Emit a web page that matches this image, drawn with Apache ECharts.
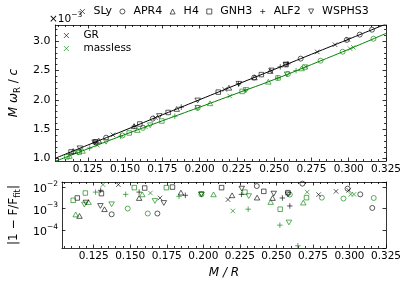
<!DOCTYPE html>
<html><head><meta charset="utf-8">
<script src="https://cdn.jsdelivr.net/npm/echarts@6/dist/echarts.min.js"></script>
<style>html,body{margin:0;padding:0;background:#fff}#c{width:407px;height:281px}</style>
</head><body><div id="c"></div>
<script>
// ---- data (top: M*omega_R/c in units of 1e-3 ; bottom: |1 - F/F_fit|) ----
const eosNames = ['SLy','APR4','H4','GNH3','ALF2','WSPHS3'];

const fitComp = [0.1033,0.125,0.15,0.175,0.2,0.225,0.25,0.275,0.3,0.325];
const fitGR   = [1.006,1.230,1.484,1.745,2.002,2.260,2.517,2.775,3.032,3.290];
const fitML   = [0.955,1.166,1.410,1.643,1.875,2.110,2.345,2.600,2.860,3.130];

const slyCompGR = [0.1419,0.1704,0.2169,0.2789,0.2908,0.2995];
const slyFreqGR = [1.404,1.697,2.176,2.815,2.938,3.027];
const slyResGR  = [0.0134,0.00318,0.00268,0.00457,0.0065,0.00725];
const slyCompML = [0.1314,0.1638,0.2202,0.2711,0.3009,0.3031];
const slyFreqML = [1.229,1.538,2.065,2.562,2.870,2.893];
const slyResML  = [0.0134,0.00543,0.00079,0.0060,0.0047,0.0047];

const apr4CompGR = [0.1373,0.1686,0.2366,0.2678,0.2987,0.3074,0.3156];
const apr4FreqGR = [1.356,1.679,2.379,2.701,3.019,3.109,3.193];
const apr4ResGR  = [0.00055,0.00060,0.0115,0.0149,0.0087,0.0047,0.00109];
const apr4CompML = [0.1483,0.1620,0.1987,0.2592,0.2811,0.2959,0.3166];
const apr4FreqML = [1.393,1.522,1.863,2.440,2.665,2.818,3.039];
const apr4ResML  = [0.00102,0.00060,0.0047,0.0046,0.0033,0.0030,0.00318];

const h4CompGR = [0.1153,0.1324,0.1561,0.1847,0.2197,0.2368,0.2474];
const h4FreqGR = [1.130,1.306,1.550,1.845,2.205,2.381,2.491];
const h4ResGR  = [0.00046,0.00095,0.00318,0.00566,0.00425,0.00332,0.00318];
const h4CompML = [0.1127,0.1215,0.1583,0.2070,0.2461,0.2684];
const h4FreqML = [1.046,1.132,1.487,1.941,2.308,2.535];
const h4ResML  = [0.00054,0.00207,0.0047,0.0047,0.00207,0.00194];

const gnh3CompGR = [0.1138,0.1303,0.1599,0.1789,0.2125,0.2414,0.2579];
const gnh3FreqGR = [1.114,1.284,1.589,1.785,2.131,2.429,2.599];
const gnh3ResGR  = [0.00318,0.0051,0.0093,0.0103,0.0097,0.0065,0.00566];
const gnh3CompML = [0.1110,0.1193,0.1528,0.1747,0.2285,0.2526,0.2706];
const gnh3FreqML = [1.030,1.111,1.436,1.640,2.143,2.372,2.557];
const gnh3ResML  = [0.00248,0.00543,0.0097,0.0097,0.0060,0.00095,0.0033];

const alf2CompGR = [0.1298,0.1561,0.1877,0.2261,0.2541,0.2592];
const alf2FreqGR = [1.279,1.550,1.876,2.271,2.560,2.612];
const alf2ResGR  = [0.00725,0.0060,0.00425,0.0047,0.00318,0.00135];
const alf2CompML = [0.1263,0.1469,0.1834,0.2307,0.2524,0.2647];
const alf2FreqML = [1.179,1.380,1.721,2.164,2.370,2.497];
const alf2ResML  = [0.0060,0.0047,0.00381,0.00095,0.000171,0.0000186];

const wsCompGR = [0.1197,0.1296,0.1730,0.1987,0.2263,0.2482,0.2579];
const wsFreqGR = [1.175,1.277,1.724,1.989,2.273,2.499,2.599];
const wsResGR  = [0.00194,0.00135,0.00186,0.0047,0.0087,0.0051,0.0047];
const wsCompML = [0.1186,0.1373,0.1669,0.1987,0.2311,0.2586];
const wsFreqML = [1.104,1.286,1.567,1.863,2.167,2.434];
const wsResML  = [0.00157,0.00162,0.00231,0.0047,0.0039,0.000228];

const xMajorTicks = [0.125,0.15,0.175,0.2,0.225,0.25,0.275,0.3,0.325];
const yMajorTicks = [1.0,1.5,2.0,2.5,3.0];

// ---- build ----
const eosData = {
  SLy:{cg:slyCompGR,fg:slyFreqGR,rg:slyResGR,cm:slyCompML,fm:slyFreqML,rm:slyResML},
  APR4:{cg:apr4CompGR,fg:apr4FreqGR,rg:apr4ResGR,cm:apr4CompML,fm:apr4FreqML,rm:apr4ResML},
  H4:{cg:h4CompGR,fg:h4FreqGR,rg:h4ResGR,cm:h4CompML,fm:h4FreqML,rm:h4ResML},
  GNH3:{cg:gnh3CompGR,fg:gnh3FreqGR,rg:gnh3ResGR,cm:gnh3CompML,fm:gnh3FreqML,rm:gnh3ResML},
  ALF2:{cg:alf2CompGR,fg:alf2FreqGR,rg:alf2ResGR,cm:alf2CompML,fm:alf2FreqML,rm:alf2ResML},
  WSPHS3:{cg:wsCompGR,fg:wsFreqGR,rg:wsResGR,cm:wsCompML,fm:wsFreqML,rm:wsResML}
};
const FONT = 'DejaVu Sans';
const GREEN = '#008000';
const symX = 'path://M0,0L10,10M10,0L0,10';
const symPlus = 'path://M5,0L5,10M0,5L10,5';
const symUp = 'path://M5,0L10,8.66L0,8.66Z';
const symDown = 'path://M0,0L10,0L5,8.66Z';
const symSq = 'path://M0,0L10,0L10,10L0,10Z';
const eosSymbol = {SLy:symX, APR4:'circle', H4:symUp, GNH3:symSq, ALF2:symPlus, WSPHS3:symDown};
const eosSize = {SLy:4.5, APR4:5, H4:5.5, GNH3:4.5, ALF2:5.5, WSPHS3:5.5};
const zip = (a,b) => a.map((v,i)=>[v,b[i]]);

const xMinorTicks = [];
for (let k = 21; k <= 65; k++) { if (k % 5 !== 0) xMinorTicks.push(k*0.005); }
const yMinorTicks = [];
for (let k = 10; k <= 32; k++) { if (k % 5 !== 0) yMinorTicks.push(k/10); }

const tickStyle = {color:'#000', width:0.8};
function xAx(grid, pos, ticks, len, major, labels, extra) {
  return Object.assign({
    type:'value', gridIndex:grid, position:pos, min:0.1033, max:0.325,
    axisLine:{show:major, onZero:false, lineStyle:{color:'#000', width:0.8}},
    axisTick:{show:true, inside:true, length:len, customValues:ticks, lineStyle:tickStyle},
    axisLabel:{show:labels, customValues:xMajorTicks, formatter:v=>v.toFixed(3),
      fontFamily:FONT, fontSize:10.5, color:'#000', margin:3},
    splitLine:{show:false}
  }, extra||{});
}
function yTop(pos, ticks, len, major, labels, extra) {
  return Object.assign({
    type:'value', gridIndex:0, position:pos, min:0.959, max:3.273,
    axisLine:{show:major, onZero:false, lineStyle:{color:'#000', width:0.8}},
    axisTick:{show:true, inside:true, length:len, customValues:ticks, lineStyle:tickStyle},
    axisLabel:{show:labels, customValues:yMajorTicks, formatter:v=>v.toFixed(1),
      fontFamily:FONT, fontSize:11, color:'#000', margin:5},
    splitLine:{show:false}
  }, extra||{});
}
function yBot(pos, labels, extra) {
  return Object.assign({
    type:'log', logBase:10, gridIndex:1, position:pos, min:1.46e-5, max:0.0178,
    axisLine:{show:true, onZero:false, lineStyle:{color:'#000', width:0.8}},
    axisTick:{show:true, inside:true, length:3.5, lineStyle:tickStyle},
    axisLabel:{show:labels, showMinLabel:false, showMaxLabel:false, margin:4,
      formatter:v=>{const e=Math.round(Math.log10(v)); return '{b|10}{s|\u2212'+Math.abs(e)+'}';},
      rich:{b:{fontFamily:FONT,fontSize:11,color:'#000',lineHeight:15,verticalAlign:'bottom'},
            s:{fontFamily:FONT,fontSize:7.5,color:'#000',lineHeight:15,verticalAlign:'top'}}},
    splitLine:{show:false}
  }, extra||{});
}

const series = [];
series.push({type:'line', name:'fitGR', xAxisIndex:0, yAxisIndex:0, data:zip(fitComp,fitGR),
  smooth:true, showSymbol:false, symbol:'none', lineStyle:{color:'#000', width:1}, z:2, silent:true});
series.push({type:'line', name:'fitML', xAxisIndex:0, yAxisIndex:0, data:zip(fitComp,fitML),
  smooth:true, showSymbol:false, symbol:'none', lineStyle:{color:GREEN, width:1}, z:2, silent:true});

eosNames.forEach(n => {
  const d = eosData[n];
  const mk = (name, xi, yi, data, col) => ({
    type:'scatter', name, xAxisIndex:xi, yAxisIndex:yi, data,
    symbol:eosSymbol[n], symbolSize:eosSize[n], symbolKeepAspect:true,
    itemStyle:{color:'rgba(0,0,0,0)', borderColor:col, borderWidth:0.8}, z:3, silent:true
  });
  series.push(mk(n, 0, 0, zip(d.cg,d.fg), '#000'));
  series.push(mk(n+' massless', 0, 0, zip(d.cm,d.fm), GREEN));
  series.push(mk(n+' GR res', 4, 4, zip(d.cg,d.rg), '#000'));
  series.push(mk(n+' massless res', 4, 4, zip(d.cm,d.rm), GREEN));
});
series.push({type:'scatter', name:'GR', xAxisIndex:0, yAxisIndex:0, data:[], symbol:symX, symbolSize:4.5,
  itemStyle:{color:'rgba(0,0,0,0)', borderColor:'#000', borderWidth:0.8}});
series.push({type:'scatter', name:'massless', xAxisIndex:0, yAxisIndex:0, data:[], symbol:symX, symbolSize:4.5,
  itemStyle:{color:'rgba(0,0,0,0)', borderColor:GREEN, borderWidth:0.8}});

const option = {
  animation:false,
  backgroundColor:'#fff',
  textStyle:{fontFamily:FONT},
  grid:[{left:49, top:25, width:337, height:136}, {left:49, top:182, width:337, height:66}],
  xAxis:[
    xAx(0,'bottom',xMajorTicks,3.5,true,true),
    xAx(0,'top',xMajorTicks,3.5,true,false),
    xAx(0,'bottom',xMinorTicks,2,false,false),
    xAx(0,'top',xMinorTicks,2,false,false),
    xAx(1,'bottom',xMajorTicks,3.5,true,true,{name:'M / R', nameLocation:'middle', nameGap:19,
      nameTextStyle:{fontFamily:FONT, fontSize:12, fontStyle:'italic', color:'#000'}}),
    xAx(1,'top',xMajorTicks,3.5,true,false),
    xAx(1,'bottom',xMinorTicks,2,false,false),
    xAx(1,'top',xMinorTicks,2,false,false)
  ],
  yAxis:[
    yTop('left',yMajorTicks,3.5,true,true,{name:'{i|M ω}{sub|R}{r| / }{i|c}', nameLocation:'middle', nameGap:31,
      nameTextStyle:{fontFamily:FONT, fontSize:12, color:'#000', rich:{
        i:{fontFamily:FONT,fontSize:12,fontStyle:'italic',color:'#000',lineHeight:16,verticalAlign:'middle'},
        r:{fontFamily:FONT,fontSize:12,color:'#000',lineHeight:16,verticalAlign:'middle'},
        sub:{fontFamily:FONT,fontSize:8.5,color:'#000',lineHeight:16,verticalAlign:'bottom'}}}}),
    yTop('right',yMajorTicks,3.5,true,false),
    yTop('left',yMinorTicks,2,false,false),
    yTop('right',yMinorTicks,2,false,false),
    yBot('left',true,{name:'{r||1 \u2212 F/F}{sub|fit}{r||}', nameLocation:'middle', nameGap:36,
      nameTextStyle:{fontFamily:FONT, fontSize:12, color:'#000', rich:{
        r:{fontFamily:FONT,fontSize:12,color:'#000',lineHeight:16,verticalAlign:'middle'},
        sub:{fontFamily:FONT,fontSize:8.5,color:'#000',lineHeight:16,verticalAlign:'bottom'}}}}),
    yBot('right',false)
  ],
  legend:[
    {data:eosNames, left:79.5, top:6, padding:0, itemWidth:5, itemHeight:5, itemGap:7.5, symbolKeepAspect:false,
      selectedMode:false, itemStyle:{borderWidth:0.8},
      textStyle:{fontFamily:FONT, fontSize:11, color:'#000', padding:[0,0,0,3.5]}},
    {data:['GR','massless'], orient:'vertical', left:63.5, top:30, padding:0, itemWidth:5, itemHeight:5, itemGap:2,
      symbolKeepAspect:false, selectedMode:false, itemStyle:{borderWidth:0.8},
      textStyle:{fontFamily:FONT, fontSize:10.5, color:'#000', padding:[0,0,0,9.5]}}
  ],
  graphic:[{type:'text', left:49, top:11, style:{text:'{a|\u00d710}{s|\u22123}', rich:{
    a:{fontFamily:FONT,fontSize:10.5,fill:'#000',lineHeight:14,verticalAlign:'bottom'},
    s:{fontFamily:FONT,fontSize:7.5,fill:'#000',lineHeight:14,verticalAlign:'top'}}}}],
  series
};
const chart = echarts.init(document.getElementById('c'), null, {renderer:'canvas'});
chart.setOption(option);
</script></body></html>
